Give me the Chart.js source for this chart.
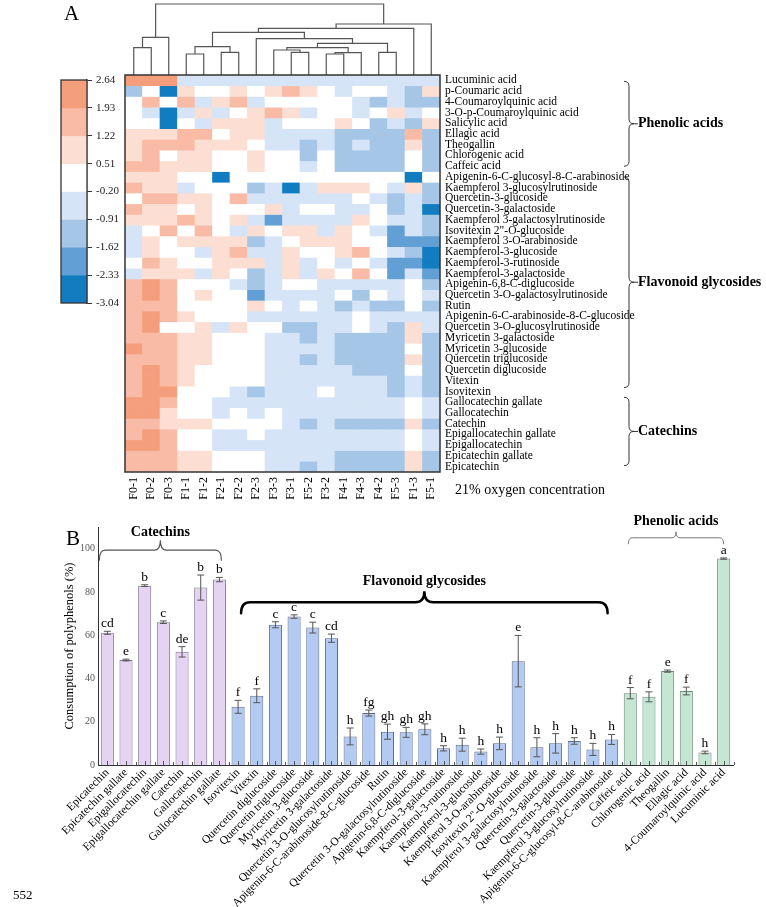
<!DOCTYPE html>
<html><head><meta charset="utf-8">
<script src="https://cdn.jsdelivr.net/npm/chart.js@4.4.1/dist/chart.umd.min.js"></script>
<style>
body{margin:0;background:#fff;width:766px;height:907px;position:relative;overflow:hidden;}
canvas{position:absolute;}
.t{position:absolute;font-family:"Liberation Serif","Times New Roman",serif;color:#000;white-space:nowrap;line-height:1;}
</style></head><body>
<canvas id="dendro" width="766" height="82" style="left:0;top:0"></canvas>
<canvas id="cbar" width="140" height="260" style="left:0;top:60px"></canvas>
<canvas id="heat" width="766" height="480" style="left:0;top:60px"></canvas>
<canvas id="bars" width="766" height="407" style="left:0;top:500px"></canvas>
<div class="t" style="left:64px;top:3px;font-size:21px">A</div>
<div class="t" style="left:66px;top:528px;font-size:21px">B</div>
<div class="t" style="left:455px;top:483px;font-size:14px">21% oxygen concentration</div>
<div class="t" style="left:13px;top:888px;font-size:13px">552</div>
<script>
// ---------- Panel A data ----------
const heatColumns = ['F0-1','F0-2','F0-3','F1-1','F1-2','F2-1','F2-2','F2-3','F3-3','F3-1','F5-2','F3-2','F4-1','F4-3','F4-2','F5-3','F1-3','F5-1'];
const phenolicRows = ['Lucuminic acid','p-Coumaric acid','4-Coumaroylquinic acid','3-O-p-Coumaroylquinic acid','Salicylic acid','Ellagic acid','Theogallin','Chlorogenic acid','Caffeic acid'];
const flavonoidRows = ['Apigenin-6-C-glucosyl-8-C-arabinoside','Kaempferol 3-glucosylrutinoside','Quercetin-3-glucoside','Quercetin-3-galactoside','Kaempferol 3-galactosylrutinoside','Isovitexin 2"-O-glucoside','Kaempferol 3-O-arabinoside','Kaempferol-3-glucoside','Kaempferol-3-rutinoside','Kaempferol-3-galactoside','Apigenin-6,8-C-diglucoside','Quercetin 3-O-galactosylrutinoside','Rutin','Apigenin-6-C-arabinoside-8-C-glucoside','Quercetin 3-O-glucosylrutinoside','Myricetin 3-galactoside','Myricetin 3-glucoside','Quercetin triglucoside','Quercetin diglucoside','Vitexin','Isovitexin'];
const catechinRows = ['Gallocatechin gallate','Gallocatechin','Catechin','Epigallocatechin gallate','Epigallocatechin','Epicatechin gallate','Epicatechin'];

const phenolicHeat = [
[2.3,2.3,2.3,-0.5,-0.5,-0.5,-0.5,-0.5,-0.5,-0.5,-0.5,-0.5,-0.5,-0.5,-0.5,-0.5,-0.5,-0.5],
[-1.3,0.1,-2.7,0.9,0.1,0.1,0.9,0.1,0.9,1.6,0.9,0.1,-0.5,0.1,0.1,-0.5,-1.3,0.9],
[0.1,1.6,0.1,1.6,-0.5,0.9,1.6,-0.5,0.1,0.1,0.1,0.1,0.1,-0.5,-1.3,-0.5,-1.3,-1.3],
[0.1,-0.5,-2.7,-0.5,0.9,-0.5,0.1,0.9,1.6,0.9,-0.5,0.1,0.1,-0.5,0.1,0.9,-0.5,0.1],
[0.1,0.1,-2.7,0.1,-0.5,0.9,0.9,0.9,-0.5,0.1,0.1,0.1,0.9,0.1,-1.3,-0.5,-1.3,0.9],
[0.9,0.9,0.9,1.6,1.6,0.1,0.9,0.9,-0.5,-0.5,-0.5,-0.5,-1.3,-1.3,-1.3,-1.3,1.6,-1.3],
[0.9,1.6,1.6,1.6,0.9,0.9,0.9,0.1,-0.5,-0.5,-1.3,-0.5,-1.3,-0.5,-1.3,-1.3,0.9,-1.3],
[0.9,1.6,0.1,0.9,0.9,0.1,0.1,0.9,0.1,0.1,-1.3,0.1,-1.3,-1.3,-1.3,-1.3,0.1,-1.3],
[1.6,1.6,0.9,0.9,0.9,0.1,0.1,0.9,0.1,0.1,-0.5,0.1,-1.3,-1.3,-1.3,-1.3,0.1,-1.3]
];
const flavonoidHeat = [
[0.9,0.9,0.9,0.1,0.1,-2.7,0.1,0.1,0.1,0.1,0.1,0.1,0.1,0.1,0.1,0.1,-2.7,0.1],
[1.6,0.9,0.9,-0.5,0.1,0.1,0.1,-1.3,-0.5,-2.7,-0.5,0.9,0.9,0.9,0.1,-0.5,0.9,-1.3],
[0.1,1.6,1.6,0.9,0.9,0.1,1.6,-0.5,-0.5,-0.5,-0.5,-0.5,-0.5,0.1,-0.5,-1.3,-0.5,-1.3],
[1.6,0.9,0.9,0.1,0.9,0.1,0.1,0.1,0.9,-0.5,0.1,0.1,-0.5,-0.5,0.1,-1.3,-0.5,-2.7],
[0.9,0.9,0.9,1.6,0.9,0.1,0.9,-0.5,-2.0,-0.5,-0.5,-0.5,-0.5,0.9,0.1,-0.5,-0.5,-1.3],
[-0.5,0.1,1.6,0.1,1.6,0.1,-0.5,0.9,0.1,0.9,0.9,-0.5,0.9,0.1,-0.5,-2.0,-0.5,-1.3],
[-0.5,0.9,0.1,0.9,0.9,0.9,0.9,-1.3,-0.5,0.1,0.9,0.9,0.9,0.1,0.1,-2.0,-2.0,-2.0],
[-0.5,0.9,0.1,0.1,-0.5,0.9,1.6,-0.5,-0.5,0.9,0.1,0.1,0.9,1.6,0.1,-0.5,-1.3,-2.7],
[0.1,1.6,0.9,0.1,0.1,0.9,0.9,0.9,-0.5,0.9,-0.5,0.1,-0.5,0.1,-0.5,-2.0,-2.0,-2.7],
[-0.5,0.9,0.9,0.9,-0.5,0.9,0.1,-1.3,-0.5,0.9,-0.5,0.9,0.1,1.6,0.1,-2.0,-0.5,-2.0],
[1.6,2.3,1.6,0.1,0.1,0.1,-0.5,-1.3,-0.5,0.1,0.1,-0.5,-0.5,-0.5,-0.5,-0.5,0.1,-1.3],
[1.6,2.3,1.6,0.1,0.9,0.1,0.1,-2.0,-0.5,-0.5,-0.5,-0.5,0.1,-1.3,0.1,-0.5,0.1,-0.5],
[1.6,1.6,1.6,0.1,0.1,0.1,0.1,0.9,0.1,-0.5,0.1,-0.5,-1.3,-0.5,-1.3,-1.3,0.1,-1.3],
[1.6,2.3,1.6,0.9,0.1,0.1,0.1,-0.5,-0.5,-0.5,-0.5,-0.5,-0.5,0.1,-0.5,-0.5,-0.5,-0.5],
[1.6,2.3,0.1,0.1,0.9,-0.5,0.9,0.1,0.1,-1.3,-1.3,-0.5,-0.5,0.1,-0.5,-1.3,0.9,-0.5],
[1.6,1.6,1.6,0.9,0.9,0.1,0.1,0.1,-0.5,-0.5,-1.3,-0.5,-1.3,-1.3,-1.3,-1.3,0.9,-1.3],
[2.3,1.6,1.6,0.9,0.9,0.1,0.1,0.1,-0.5,-0.5,-0.5,-0.5,-1.3,-1.3,-1.3,-1.3,0.1,-1.3],
[1.6,1.6,1.6,0.9,0.9,0.1,0.1,0.1,-0.5,-0.5,-1.3,-0.5,-1.3,-1.3,-1.3,-1.3,0.9,-1.3],
[1.6,2.3,1.6,0.9,0.1,0.1,0.1,0.1,-0.5,-0.5,-0.5,-0.5,-0.5,-1.3,-1.3,-1.3,0.1,-1.3],
[1.6,2.3,1.6,0.9,0.1,0.1,0.1,0.1,-0.5,-0.5,-0.5,-0.5,-0.5,-0.5,-0.5,-1.3,-0.5,-1.3],
[1.6,2.3,2.3,0.1,0.1,0.1,-0.5,-1.3,-0.5,-0.5,-0.5,0.1,-0.5,-0.5,-0.5,-1.3,-0.5,-1.3]
];
const catechinHeat = [
[2.3,2.3,1.6,0.1,0.1,-0.5,-0.5,-0.5,-0.5,-0.5,-0.5,-0.5,-0.5,-0.5,-0.5,-0.5,0.1,-0.5],
[2.3,2.3,0.9,0.1,0.1,-0.5,0.1,-0.5,0.1,-0.5,-0.5,-0.5,-0.5,-0.5,-0.5,-0.5,0.1,-0.5],
[1.6,1.6,0.9,0.9,0.9,0.1,0.1,0.1,0.1,-0.5,-1.3,-0.5,-1.3,-1.3,-1.3,-1.3,0.9,-1.3],
[1.6,2.3,1.6,0.1,0.1,-0.5,-0.5,0.1,-0.5,-0.5,-0.5,-0.5,-0.5,-0.5,-0.5,-0.5,0.1,-0.5],
[2.3,2.3,1.6,0.1,0.1,-0.5,-0.5,-0.5,-0.5,-0.5,-0.5,-0.5,-0.5,-0.5,-0.5,-0.5,0.1,-0.5],
[1.6,1.6,1.6,0.9,0.9,0.1,0.1,0.1,-0.5,-0.5,-0.5,-0.5,-1.3,-1.3,-1.3,-1.3,0.9,-1.3],
[1.6,1.6,1.6,0.9,0.9,0.1,0.1,0.1,-0.5,-0.5,-1.3,-0.5,-1.3,-1.3,-1.3,-1.3,0.9,-1.3]
];

// colour key: bin edges (tick labels) and bin colours
const scaleBreaks = [2.64,1.93,1.22,0.51,-0.20,-0.91,-1.62,-2.33,-3.04];
const scaleColors = ['#F59E7C','#F9BBA5','#FCDED3','#FFFFFF','#D5E4F6','#A5C6E7','#629FD4','#127CC0'];

// dendrogram: leaves 0..17, merges numbered from 18 -> [childA, childB, height]
const dendroMerges = [
[0,1,8.5],[3,4,6.6],[5,6,7.1],[9,10,7.1],[11,12,6.6],[14,15,7.1],
[22,13,7.0],[8,21,7.8],[19,20,8.8],[18,2,11.6],[25,24,8.5],[28,23,9.8],
[7,29,11.2],[26,30,13.1],[31,16,14.3],[32,17,15.6],[27,33,21.6]
];

// ---------- Panel B data ----------
const barCompounds = ['Epicatechin','Epicatechin gallate','Epigallocatechin','Epigallocatechin gallate','Catechin','Gallocatechin','Gallocatechin gallate','Isovitexin','Vitexin','Quercetin diglucoside','Quercetin triglucoside','Myricetin 3-glucoside','Myricetin 3-galactoside','Quercetin 3-O-glucosylrutinoside','Apigenin-6-C-arabinoside-8-C-glucoside','Rutin','Quercetin 3-O-galactosylrutinoside','Apigenin-6,8-C-diglucoside','Kaempferol-3-galactoside','Kaempferol-3-rutinoside','Kaempferol-3-glucoside','Kaempferol 3-O-arabinoside','Isovitexin 2"-O-glucoside','Kaempferol 3-galactosylrutinoside','Quercetin-3-galactoside','Quercetin-3-glucoside','Kaempferol 3-glucosylrutinoside','Apigenin-6-C-glucosyl-8-C-arabinoside','Caffeic acid','Chlorogenic acid','Theogallin','Ellagic acid','4-Coumaroylquinic acid','Lucuminic acid'];
const barConsumption = [61.1,48.5,82.9,66.0,52.3,82.0,85.7,26.9,32.0,64.8,68.6,63.5,58.6,13.2,24.0,15.4,15.1,16.5,7.7,9.4,6.2,10.0,48.0,8.2,10.0,11.1,7.2,11.8,33.2,31.5,43.4,34.2,5.8,95.4];
const barError = [0.7,0.4,0.4,0.6,2.4,5.8,1.0,3.0,3.2,1.4,0.8,2.5,1.9,3.9,1.4,3.5,2.3,2.5,1.2,3.0,1.2,2.9,11.9,4.4,4.5,1.5,2.8,2.3,2.6,2.3,0.5,1.8,0.6,0.3];
const barLetters = ['cd','e','b','c','de','b','b','f','f','c','c','c','cd','h','fg','gh','gh','gh','h','h','h','h','e','h','h','h','h','h','f','f','e','f','h','a'];
const barClass = ['C','C','C','C','C','C','C','F','F','F','F','F','F','F','F','F','F','F','F','F','F','F','F','F','F','F','F','F','P','P','P','P','P','P'];
const yTicksB = [0,20,40,60,80,100];

// ---------- helpers ----------
Chart.defaults.font.family = '"Liberation Serif","Times New Roman",serif';
Chart.defaults.color = '#000';
Chart.defaults.animation = false;
const SERIF = '"Liberation Serif","Times New Roman",serif';

function colorFor(v){
  for (let k = 0; k < 8; k++) if (v >= scaleBreaks[k+1]) return scaleColors[k];
  return scaleColors[7];
}
function vBrace(ctx, x, y1, y2, ym, w){
  ctx.beginPath();
  ctx.moveTo(x - w, y1);
  ctx.quadraticCurveTo(x, y1, x, y1 + w);
  ctx.lineTo(x, ym - w);
  ctx.quadraticCurveTo(x, ym, x + w, ym);
  ctx.quadraticCurveTo(x, ym, x, ym + w);
  ctx.lineTo(x, y2 - w);
  ctx.quadraticCurveTo(x, y2, x - w, y2);
  ctx.stroke();
}
function hBrace(ctx, x1, x2, y, xm, w, h){
  ctx.beginPath();
  ctx.moveTo(x1, y + h);
  ctx.quadraticCurveTo(x1, y, x1 + w, y);
  ctx.lineTo(xm - w, y);
  ctx.quadraticCurveTo(xm, y, xm, y - h);
  ctx.quadraticCurveTo(xm, y, xm + w, y);
  ctx.lineTo(x2 - w, y);
  ctx.quadraticCurveTo(x2, y, x2, y + h);
  ctx.stroke();
}
const frame = {
  id: 'frame',
  afterDraw(chart, args, opts){
    const {ctx, chartArea: a} = chart;
    ctx.save();
    ctx.strokeStyle = opts.color || '#333';
    ctx.lineWidth = opts.width || 1.5;
    ctx.strokeRect(a.left, a.top, a.right - a.left, a.bottom - a.top);
    ctx.restore();
  }
};

// ---------- dendrogram ----------
(function(){
  const nodes = heatColumns.map((c, i) => ({x: i, y: 0}));
  const sets = [];
  dendroMerges.forEach(m => {
    const a = nodes[m[0]], b = nodes[m[1]], h = m[2];
    nodes.push({x: (a.x + b.x) / 2, y: h});
    sets.push({
      data: [{x: a.x, y: a.y}, {x: a.x, y: h}, {x: b.x, y: h}, {x: b.x, y: b.y}],
      showLine: true, borderColor: '#555', borderWidth: 1.2, pointRadius: 0,
      tension: 0, clip: false
    });
  });
  new Chart(document.getElementById('dendro'), {
    type: 'scatter',
    data: {datasets: sets},
    options: {
      responsive: false, events: [],
      layout: {padding: {left: 125, right: 326, top: 4, bottom: 6}},
      plugins: {legend: {display: false}, tooltip: {enabled: false}},
      scales: {
        x: {type: 'linear', min: -0.5, max: heatColumns.length - 0.5, display: false},
        y: {type: 'linear', min: 0, max: 21.6, display: false}
      }
    }
  });
})();

// ---------- colour bar ----------
new Chart(document.getElementById('cbar'), {
  type: 'bar',
  data: {
    labels: [''],
    datasets: scaleColors.map((c, k) => ({
      data: [[scaleBreaks[k+1], scaleBreaks[k]]], backgroundColor: c,
      borderWidth: 0, barPercentage: 1, categoryPercentage: 1, grouped: false
    }))
  },
  options: {
    responsive: false, events: [],
    layout: {padding: {left: 61, right: 0, top: 20, bottom: 17}},
    plugins: {legend: {display: false}, tooltip: {enabled: false}, frame: {color: '#333', width: 1.3}},
    scales: {
      x: {display: false},
      y: {
        type: 'linear', position: 'right', min: scaleBreaks[8], max: scaleBreaks[0],
        afterBuildTicks(s){ s.ticks = scaleBreaks.map(v => ({value: v})); },
        grid: {drawOnChartArea: false, drawTicks: true, tickLength: 5, color: '#333'},
        border: {display: true, color: '#333', width: 1.3},
        ticks: {padding: 4, color: '#222', font: {size: 11}, callback: v => Number(v).toFixed(2)},
        afterFit(s){ s.width = 53; }
      }
    }
  },
  plugins: [frame]
});

// ---------- heat map ----------
const heatRows = phenolicRows.concat(flavonoidRows, catechinRows);
const heatValues = phenolicHeat.concat(flavonoidHeat, catechinHeat);
const heatGroups = [
  {name: 'Phenolic acids', first: 0, last: phenolicRows.length - 1},
  {name: 'Flavonoid glycosides', first: phenolicRows.length, last: phenolicRows.length + flavonoidRows.length - 1},
  {name: 'Catechins', first: phenolicRows.length + flavonoidRows.length, last: heatRows.length - 1}
];
const heatBraces = {
  id: 'heatBraces',
  afterDraw(chart){
    const ctx = chart.ctx, ys = chart.scales.rows;
    ctx.save();
    ctx.strokeStyle = '#333'; ctx.lineWidth = 1;
    ctx.fillStyle = '#000';
    ctx.font = 'bold 14px ' + SERIF;
    ctx.textBaseline = 'middle'; ctx.textAlign = 'left';
    const adj = [[1, 0], [0, -4], [-5, -1]];
    heatGroups.forEach((g, i) => {
      const y1 = ys.getPixelForValue(g.first) + adj[i][0];
      const y2 = ys.getPixelForValue(g.last) + adj[i][1];
      const ym = (y1 + y2) / 2;
      vBrace(ctx, 629, y1, y2, ym, 5);
      ctx.beginPath(); ctx.moveTo(634, ym); ctx.lineTo(638, ym); ctx.stroke();
      ctx.fillText(g.name, 638, ym);
    });
    ctx.restore();
  }
};
new Chart(document.getElementById('heat'), {
  type: 'bar',
  data: {
    labels: heatColumns,
    datasets: heatValues.map((row, i) => ({
      label: heatRows[i],
      data: row.map(() => 1),
      backgroundColor: row.map(colorFor),
      borderWidth: 0, barPercentage: 1, categoryPercentage: 1
    }))
  },
  options: {
    responsive: false, events: [],
    layout: {padding: {left: 125, right: 0, top: 15, bottom: 0}},
    plugins: {legend: {display: false}, tooltip: {enabled: false}, frame: {color: '#333', width: 1.5}},
    scales: {
      x: {
        type: 'category', stacked: true, offset: true,
        grid: {display: false, drawTicks: false}, border: {display: false},
        ticks: {autoSkip: false, minRotation: 90, maxRotation: 90, padding: 5, color: '#000', font: {size: 12}},
        afterFit(s){ s.height = 68; }
      },
      y: {type: 'linear', stacked: true, min: 0, max: heatRows.length, reverse: true, display: false},
      rows: {
        type: 'category', labels: heatRows, position: 'right', offset: true,
        grid: {display: false, drawTicks: false}, border: {display: false},
        ticks: {autoSkip: false, padding: 5, color: '#000', font: {size: 11.5}},
        afterFit(s){ s.width = 326; }
      }
    }
  },
  plugins: [frame, heatBraces]
});

// ---------- bar chart ----------
const classFill = {C: '#E4D3F2', F: '#B3CBF2', P: '#C4E6D3'};
const classLine = {C: '#7E7590', F: '#5A6B8E', P: '#6E8A7A'};
const barDecor = {
  id: 'barDecor',
  afterDatasetsDraw(chart){
    const ctx = chart.ctx, xs = chart.scales.x, ys = chart.scales.y;
    const a = chart.chartArea;
    const step = xs.getPixelForValue(1) - xs.getPixelForValue(0);
    ctx.save();
    // inner ticks on the x axis
    ctx.strokeStyle = '#555'; ctx.lineWidth = 1;
    ctx.beginPath();
    for (let i = 0; i < barCompounds.length; i++){
      const x = Math.round(xs.getPixelForValue(i)) + 0.5;
      ctx.moveTo(x, a.bottom); ctx.lineTo(x, a.bottom - 4);
      const xb = Math.round(x + step / 2) + 0.5;
      ctx.moveTo(xb, a.bottom); ctx.lineTo(xb, a.bottom - 3);
    }
    ctx.stroke();
    // error bars and letters
    ctx.font = '13.5px ' + SERIF;
    ctx.textAlign = 'center'; ctx.textBaseline = 'alphabetic';
    ctx.fillStyle = '#000';
    barConsumption.forEach((v, i) => {
      const x = xs.getPixelForValue(i);
      const yT = ys.getPixelForValue(v + barError[i]);
      const yB = ys.getPixelForValue(v - barError[i]);
      ctx.strokeStyle = '#555'; ctx.lineWidth = 1;
      ctx.beginPath();
      ctx.moveTo(x, yT); ctx.lineTo(x, yB);
      ctx.moveTo(x - 3.5, yT); ctx.lineTo(x + 3.5, yT);
      ctx.moveTo(x - 3.5, yB); ctx.lineTo(x + 3.5, yB);
      ctx.stroke();
      ctx.fillText(barLetters[i], x, yT - 4);
    });
    // group braces
    ctx.lineCap = 'round';
    ctx.strokeStyle = '#555'; ctx.lineWidth = 1.2;
    const cy = ys.getPixelForValue(99.3);
    const cx1 = xs.getPixelForValue(0) - 8, cx2 = xs.getPixelForValue(6) + 2;
    hBrace(ctx, cx1, cx2, cy, (cx1 + cx2) / 2, 6, 10);
    ctx.strokeStyle = '#000'; ctx.lineWidth = 2.5;
    const fy = ys.getPixelForValue(75.2);
    const fx1 = xs.getPixelForValue(7) + 3, fx2 = xs.getPixelForValue(27) - 4;
    hBrace(ctx, fx1, fx2, fy, (fx1 + fx2) / 2, 9, 11);
    ctx.strokeStyle = '#777'; ctx.lineWidth = 1;
    const py = ys.getPixelForValue(105);
    const px1 = xs.getPixelForValue(28) - 2, px2 = xs.getPixelForValue(33);
    hBrace(ctx, px1, px2, py, (px1 + px2) / 2, 4, 6);
    ctx.font = 'bold 14px ' + SERIF;
    ctx.textBaseline = 'middle'; ctx.fillStyle = '#000';
    ctx.fillText('Catechins', (cx1 + cx2) / 2, cy - 18);
    ctx.fillText('Flavonoid glycosides', (fx1 + fx2) / 2, fy - 21);
    ctx.fillText('Phenolic acids', (px1 + px2) / 2, py - 16);
    ctx.restore();
  }
};
new Chart(document.getElementById('bars'), {
  type: 'bar',
  data: {
    labels: barCompounds,
    datasets: [{
      data: barConsumption,
      backgroundColor: barClass.map(c => classFill[c]),
      borderColor: barClass.map(c => classLine[c]),
      borderWidth: 1, barPercentage: 0.7, categoryPercentage: 1
    }]
  },
  options: {
    responsive: false, events: [],
    layout: {padding: {left: 56, right: 33, top: 27, bottom: 0}},
    plugins: {legend: {display: false}, tooltip: {enabled: false}},
    scales: {
      x: {
        grid: {display: false, drawTicks: false}, border: {color: '#333', width: 1},
        ticks: {autoSkip: false, minRotation: 45, maxRotation: 45, padding: 1, color: '#000', font: {size: 11.5}},
        afterFit(s){ s.height = 142; }
      },
      y: {
        min: 0, max: 110,
        afterBuildTicks(s){ s.ticks = yTicksB.map(v => ({value: v})); },
        grid: {display: false, drawTicks: false}, border: {color: '#333', width: 1},
        ticks: {padding: 3, color: '#555', font: {size: 10}},
        title: {display: true, text: 'Consumption of polyphenols (%)', color: '#000', font: {size: 12.5}, padding: {top: 6, bottom: 4}},
        afterFit(s){ s.width = 42; }
      }
    }
  },
  plugins: [barDecor]
});
</script>
</body></html>
